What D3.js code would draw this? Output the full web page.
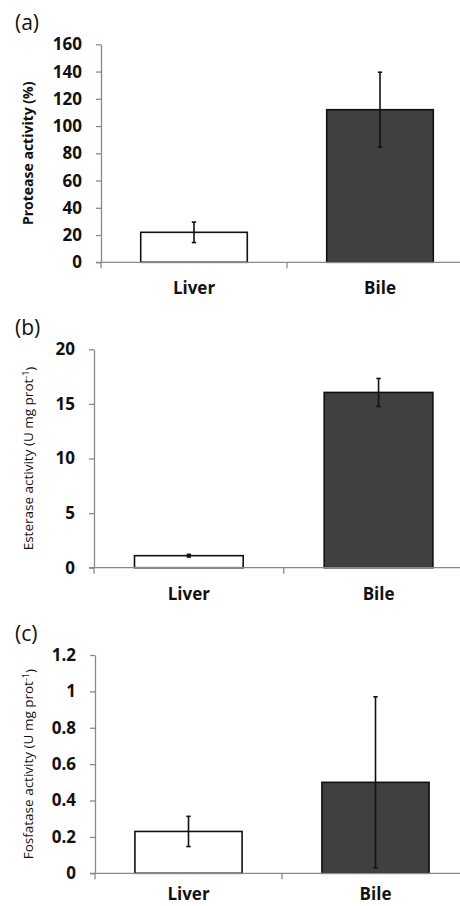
<!DOCTYPE html>
<html>
<head>
<meta charset="utf-8">
<script src="https://cdn.jsdelivr.net/npm/d3@7"></script>
<style>
  body { margin: 0; background: #fff; }
  svg { display: block; font-family: "Open Sans", "Noto Sans", sans-serif; }
</style>
</head>
<body>
<svg id="chart" width="460" height="906"></svg>
<script>
const categories = ["Liver", "Bile"];
const barFills = ["#ffffff", "#404040"];

// (a) protease
const proteaseMean = [22, 112];
const proteaseErr = [7.5, 27.5];
const proteaseTicks = [0, 20, 40, 60, 80, 100, 120, 140, 160];

// (b) esterase
const esteraseMean = [1.1, 16.05];
const esteraseErr = [0.12, 1.28];
const esteraseTicks = [0, 5, 10, 15, 20];

// (c) fosfatase
const fosfataseMean = [0.23, 0.5];
const fosfataseErr = [0.083, 0.47];
const fosfataseTicks = [0, 0.2, 0.4, 0.6, 0.8, 1, 1.2];

const axisGrey = "#898989";

const panels = [
  { tag: "(a)", title: "Protease activity (%)", bold: true, unit: false,
    mean: proteaseMean, err: proteaseErr, ticks: proteaseTicks,
    left: 101, top: 44.3, bottom: 262.3, right: 473, labelGap: 32 },
  { tag: "(b)", title: "Esterase activity (U mg prot", bold: false, unit: true,
    mean: esteraseMean, err: esteraseErr, ticks: esteraseTicks,
    left: 94, top: 349.3, bottom: 567.7, right: 473.4, labelGap: 32 },
  { tag: "(c)", title: "Fosfatase activity (U mg prot", bold: false, unit: true,
    mean: fosfataseMean, err: fosfataseErr, ticks: fosfataseTicks,
    left: 95, top: 655, bottom: 873.3, right: 469, labelGap: 27 }
];

const svg = d3.select("#chart");

function drawPanel(p) {
    const g = svg.append("g");

    const y = d3.scaleLinear()
        .domain([0, d3.max(p.ticks)])
        .range([p.bottom, p.top]);

    const x = d3.scaleBand()
        .domain(categories)
        .range([p.left, p.right])
        .padding(0);

    const barW = x.bandwidth() * 0.573;

    // panel letter
    g.append("text")
     .attr("x", 15)
     .attr("y", p.top - 14)
     .style("font-size", "21px")
     .attr("fill", "#111")
     .text(p.tag);

    // y axis
    const yAxis = g.append("g")
        .attr("transform", `translate(${p.left},0)`)
        .call(d3.axisLeft(y)
            .tickValues(p.ticks)
            .tickFormat(d => String(d))
            .tickSize(5)
            .tickSizeOuter(0)
            .tickPadding(14));
    yAxis.select(".domain").attr("stroke", axisGrey).attr("stroke-width", 1.3);
    yAxis.selectAll(".tick line").attr("stroke", axisGrey).attr("stroke-width", 1.3);
    yAxis.selectAll(".tick text")
         .attr("fill", "#111")
         .style("font-size", "17px")
         .style("font-weight", "700")
         .style("font-family", "'Open Sans', sans-serif");

    // bars
    g.selectAll(".bar")
     .data(categories)
     .enter()
     .append("rect")
     .attr("class", "bar")
     .attr("x", d => x(d) + (x.bandwidth() - barW) / 2)
     .attr("y", (d, i) => y(p.mean[i]))
     .attr("width", barW)
     .attr("height", (d, i) => y(0) - y(p.mean[i]))
     .attr("fill", (d, i) => barFills[i])
     .attr("stroke", "#111")
     .attr("stroke-width", 1.6);

    // x axis line and ticks (drawn after bars so baseline is grey)
    g.append("line")
     .attr("x1", p.left - 5)
     .attr("x2", p.right)
     .attr("y1", y(0))
     .attr("y2", y(0))
     .attr("stroke", axisGrey)
     .attr("stroke-width", 1.3);

    const bounds = [x.range()[0]].concat(categories.map(c => x(c) + x.bandwidth()));
    g.selectAll(".xtick")
     .data(bounds)
     .enter()
     .append("line")
     .attr("class", "xtick")
     .attr("x1", d => d)
     .attr("x2", d => d)
     .attr("y1", y(0))
     .attr("y2", y(0) + 6)
     .attr("stroke", axisGrey)
     .attr("stroke-width", 1.3);

    // error bars
    const eb = g.selectAll(".err")
        .data(categories)
        .enter()
        .append("g")
        .attr("class", "err")
        .attr("stroke", "#111")
        .attr("stroke-width", 1.6);

    eb.append("line")
      .attr("x1", d => x(d) + x.bandwidth() / 2)
      .attr("x2", d => x(d) + x.bandwidth() / 2)
      .attr("y1", (d, i) => y(p.mean[i] + p.err[i]))
      .attr("y2", (d, i) => y(p.mean[i] - p.err[i]));

    [1, -1].forEach(s => {
        eb.append("line")
          .attr("x1", d => x(d) + x.bandwidth() / 2 - 2.2)
          .attr("x2", d => x(d) + x.bandwidth() / 2 + 2.2)
          .attr("y1", (d, i) => y(p.mean[i] + s * p.err[i]))
          .attr("y2", (d, i) => y(p.mean[i] + s * p.err[i]));
    });

    // category labels
    g.selectAll(".xlabel")
     .data(categories)
     .enter()
     .append("text")
     .attr("class", "xlabel")
     .attr("x", d => x(d) + x.bandwidth() / 2)
     .attr("y", y(0) + p.labelGap)
     .attr("text-anchor", "middle")
     .attr("fill", "#111")
     .style("font-size", "17px")
     .style("font-weight", "700")
     .text(d => d);

    // y title
    const cy = (p.top + p.bottom) / 2;
    const t = g.append("text")
        .attr("transform", `translate(28,${cy}) rotate(-90)`)
        .attr("text-anchor", "middle")
        .attr("dy", "0.35em")
        .attr("fill", "#111")
        .style("font-size", p.bold ? "14px" : "13.5px")
        .style("font-weight", p.bold ? "700" : "400");
    t.append("tspan").text(p.title);
    if (p.unit) {
        t.append("tspan")
         .attr("dy", "-0.45em")
         .style("font-size", "9px")
         .text("-1");
        t.append("tspan")
         .attr("dy", "0.45em")
         .text(")");
    }
}

panels.forEach(drawPanel);
</script>
</body>
</html>
